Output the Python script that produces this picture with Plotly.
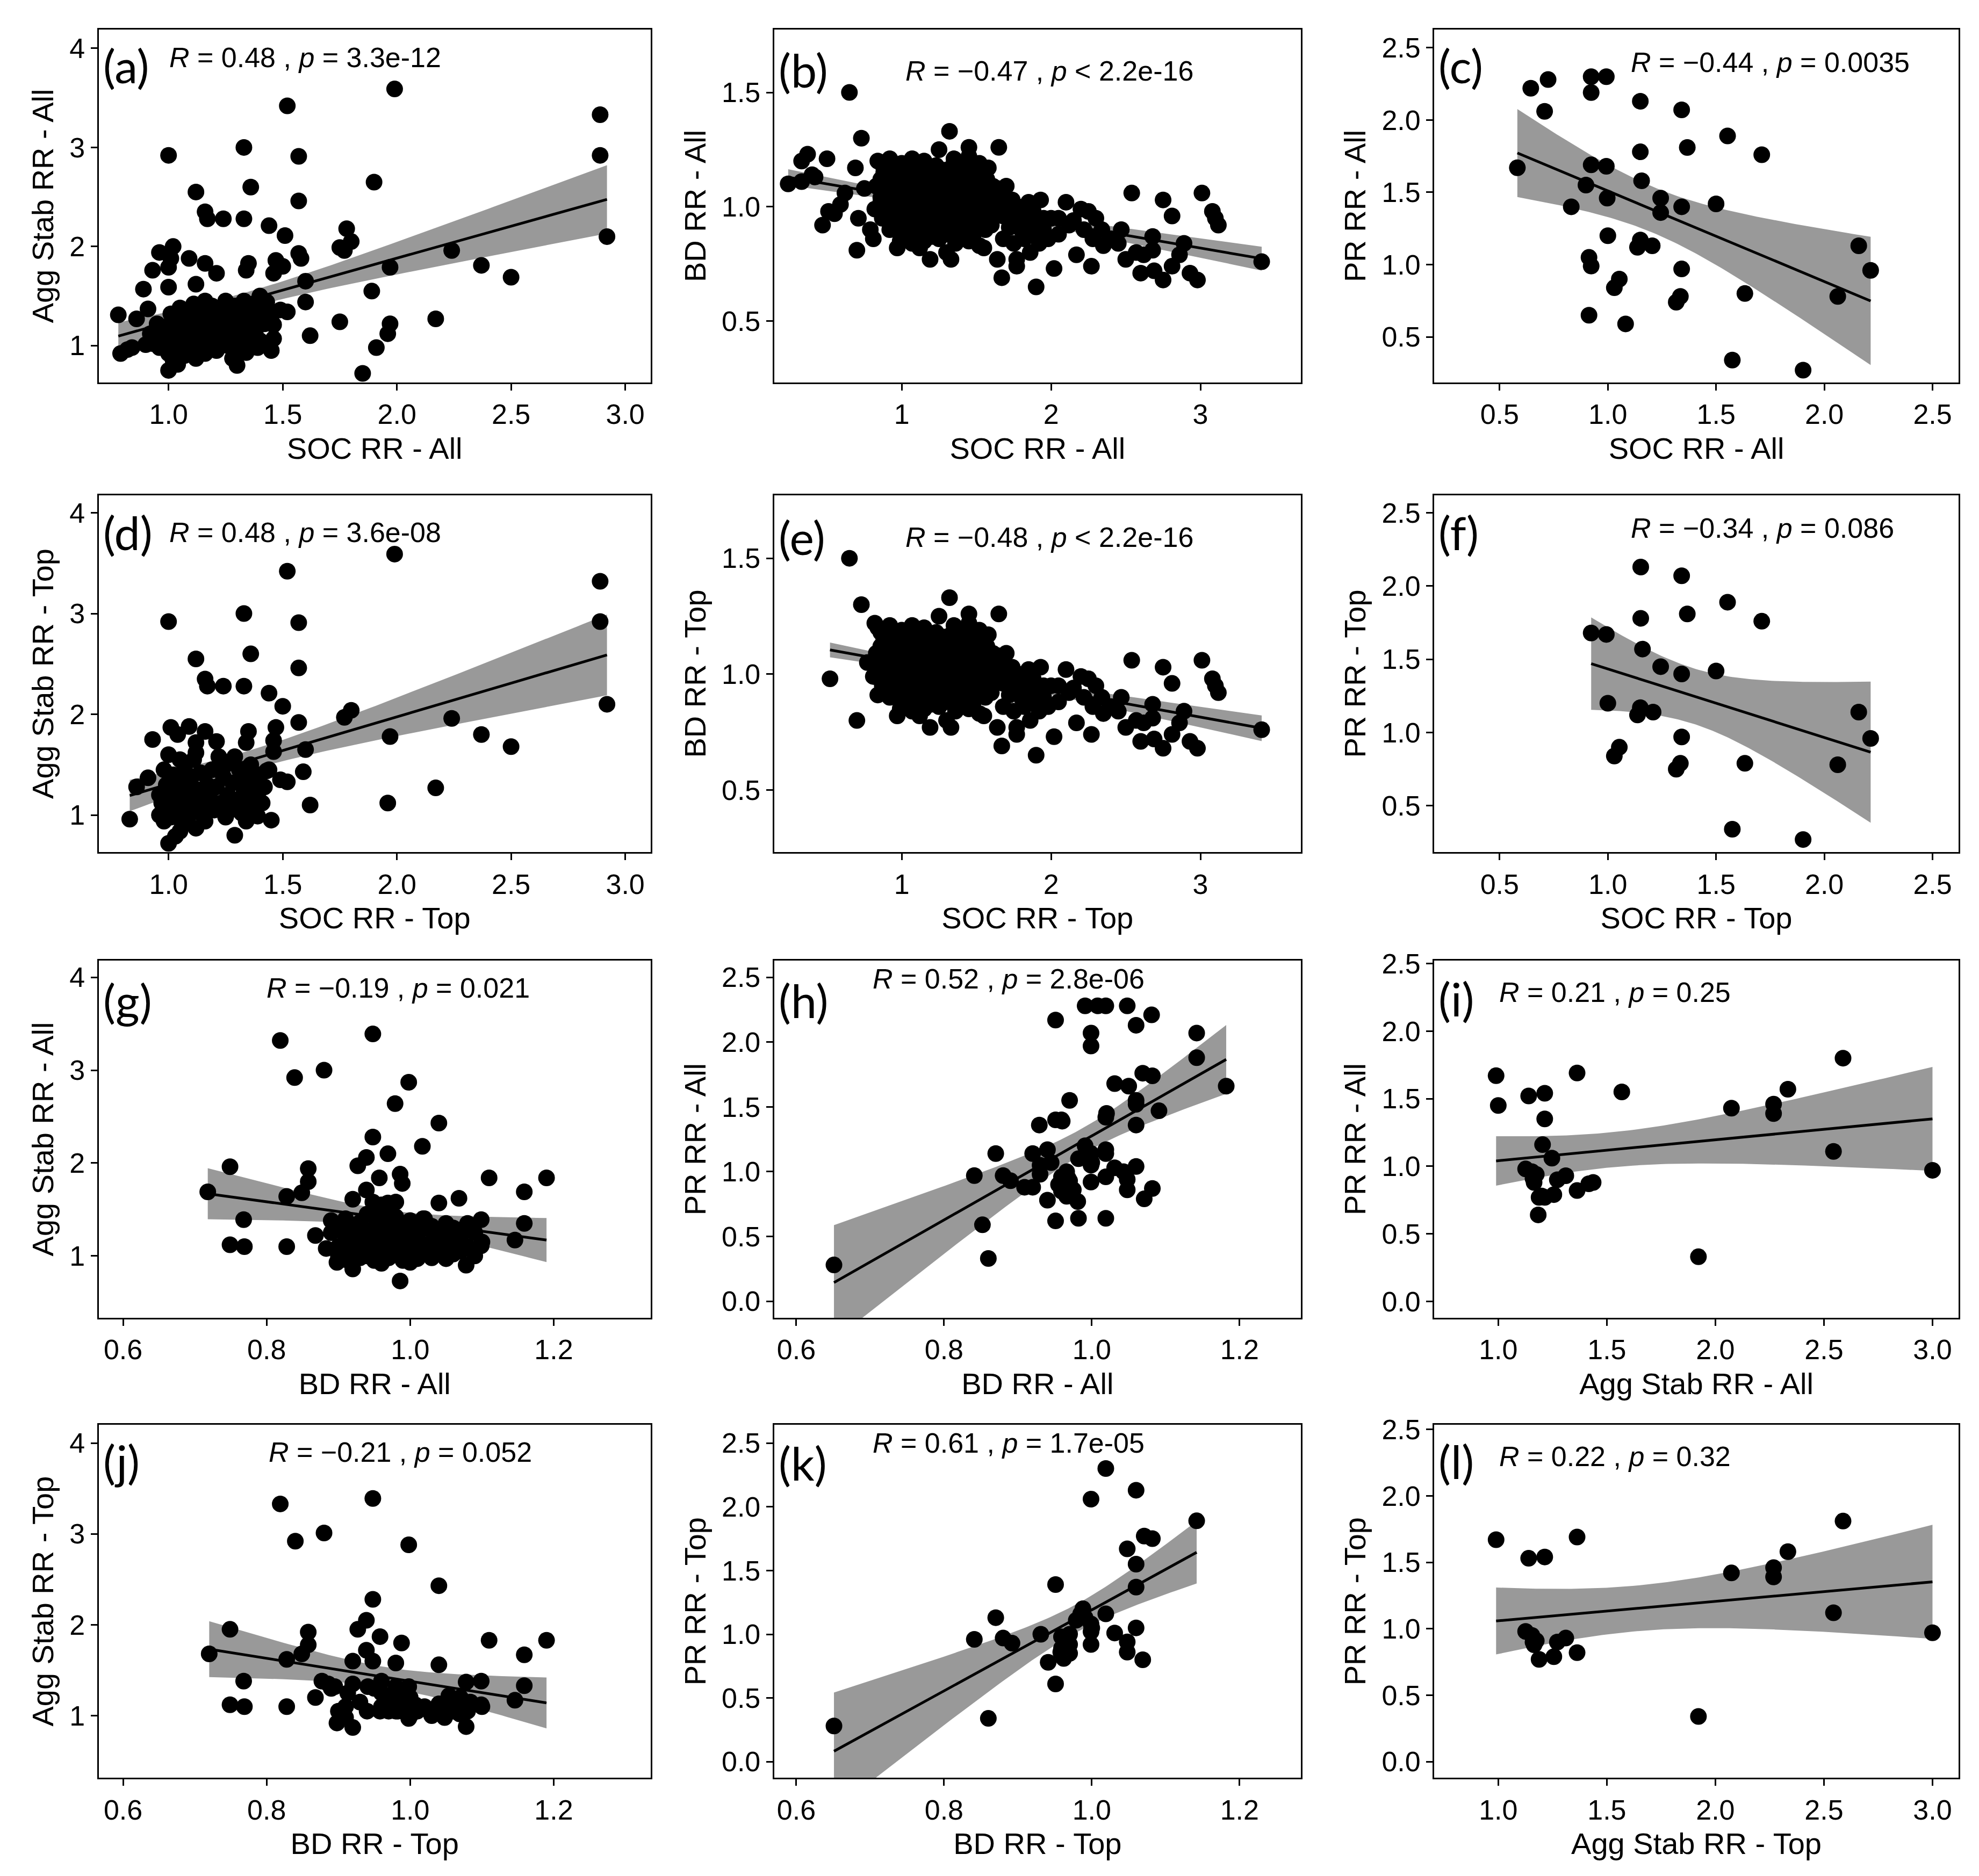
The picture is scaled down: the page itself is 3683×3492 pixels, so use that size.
import numpy as np
import plotly.graph_objects as go

# ---------------- data ----------------
# (a) SOC RR - All  vs  Agg Stab RR - All
a_x = [0.78, 0.79, 0.82, 0.84, 0.86, 0.90, 0.91, 0.89, 0.93, 0.96,
       1.00, 1.02, 1.01, 1.00, 1.00, 1.09, 1.12, 1.16, 1.17, 1.24,
       1.33, 1.33, 1.36, 1.16, 1.21, 1.12, 1.35, 1.34, 1.44, 1.51,
       1.52, 1.57, 1.57, 1.57, 1.58, 1.47, 1.50, 1.46, 1.60, 1.60,
       1.49, 1.52, 1.43, 1.46, 1.46, 1.45, 1.39, 1.34, 1.28, 1.30,
       1.12, 1.00, 1.04, 1.62, 1.75, 1.75, 1.77, 1.78, 1.80, 1.89,
       1.90, 1.91, 1.85, 1.96, 1.97, 1.97, 1.99, 2.17, 2.24, 2.37,
       2.50, 2.89, 2.89, 2.92,
       0.95, 0.95, 0.96, 0.97, 0.97, 0.99, 0.99, 1.00, 1.00, 1.01,
       1.01, 1.02, 1.02, 1.03, 1.03, 1.04, 1.04, 1.05, 1.05, 1.06,
       1.06, 1.07, 1.07, 1.08, 1.08, 1.09, 1.09, 1.10, 1.10, 1.11,
       1.11, 1.12, 1.13, 1.13, 1.14, 1.14, 1.15, 1.16, 1.16, 1.17,
       1.18, 1.18, 1.19, 1.20, 1.20, 1.21, 1.22, 1.22, 1.23, 1.24,
       1.24, 1.25, 1.26, 1.26, 1.27, 1.28, 1.28, 1.29, 1.30, 1.30,
       1.31, 1.32, 1.33, 1.33, 1.34, 1.35, 1.35, 1.36, 1.37, 1.38,
       1.38, 1.40, 1.40, 1.41, 1.42, 1.44, 1.45, 0.93, 0.92, 1.02]
a_y = [1.31, 0.92, 0.96, 0.98, 1.27, 1.01, 1.37, 1.57, 1.76, 1.94,
       2.92, 2.00, 1.88, 1.79, 1.59, 1.88, 2.55, 2.35, 2.28, 2.28,
       2.28, 3.00, 2.60, 1.83, 1.73, 1.62, 1.83, 1.76, 2.21, 2.11,
       3.42, 2.91, 2.46, 1.93, 1.88, 1.86, 1.80, 1.73, 1.65, 1.44,
       1.36, 1.34, 1.44, 1.21, 1.07, 0.95, 0.98, 0.93, 0.87, 0.80,
       0.87, 0.75, 0.81, 1.10, 1.24, 1.99, 1.96, 2.18, 2.05, 1.55,
       2.65, 0.98, 0.72, 1.12, 1.22, 1.79, 3.59, 1.27, 1.96, 1.81,
       1.69, 3.33, 2.92, 2.10,
       1.10, 1.22, 0.98, 1.05, 1.15, 1.05, 1.12, 0.92, 1.20, 1.10,
       1.32, 0.85, 1.00, 1.25, 1.15, 1.12, 0.95, 1.38, 1.08, 1.05,
       1.22, 0.90, 1.30, 1.15, 1.18, 1.00, 1.35, 1.20, 1.08, 1.42,
       0.96, 1.28, 1.12, 1.06, 1.02, 1.36, 1.20, 1.45, 0.92, 1.10,
       1.30, 1.00, 1.40, 1.18, 1.12, 0.95, 1.25, 1.05, 1.02, 1.35,
       1.12, 1.45, 1.00, 1.22, 1.15, 1.30, 1.08, 1.40, 1.18, 0.98,
       1.02, 1.28, 1.45, 1.10, 1.08, 1.35, 1.20, 1.00, 1.42, 1.28,
       1.12, 1.50, 1.05, 1.35, 1.22, 1.00, 1.30, 1.02, 1.12, 0.98]

# (d) SOC RR - Top  vs  Agg Stab RR - Top
d_x = [0.83, 0.86, 0.91, 0.93, 1.00, 1.01, 1.00, 1.04, 1.09, 1.12,
       1.16, 1.17, 1.24, 1.33, 1.33, 1.36, 1.16, 1.21, 1.12, 1.35,
       1.34, 1.44, 1.50, 1.52, 1.57, 1.57, 1.57, 1.47, 1.46, 1.60,
       1.59, 1.49, 1.52, 1.43, 1.46, 1.41, 1.45, 1.39, 1.34, 1.29,
       1.12, 1.00, 1.03, 1.05, 1.62, 1.77, 1.80, 1.96, 1.97, 1.99,
       2.17, 2.24, 2.37, 2.50, 2.89, 2.89, 2.92,
       0.96, 0.96, 0.97, 0.98, 0.99, 1.00, 1.00, 1.01, 1.02, 1.02,
       1.03, 1.04, 1.05, 1.06, 1.06, 1.07, 1.08, 1.08, 1.09, 1.10,
       1.10, 1.11, 1.12, 1.13, 1.14, 1.15, 1.15, 1.16, 1.17, 1.18,
       1.19, 1.20, 1.21, 1.22, 1.23, 1.24, 1.25, 1.25, 1.26, 1.27,
       1.28, 1.29, 1.30, 1.31, 1.32, 1.33, 1.34, 1.35, 1.36, 1.37,
       1.38, 1.39, 1.40, 1.42, 1.44, 1.12, 1.05, 0.98]
d_y = [0.96, 1.28, 1.37, 1.75, 2.92, 1.87, 1.60, 1.80, 1.88, 2.55,
       2.35, 2.28, 2.28, 2.28, 3.00, 2.60, 1.83, 1.73, 1.62, 1.83,
       1.72, 2.21, 2.08, 3.42, 2.91, 2.46, 1.92, 1.87, 1.74, 1.65,
       1.43, 1.35, 1.33, 1.44, 1.63, 1.12, 0.95, 0.99, 0.94, 0.80,
       0.87, 0.72, 0.79, 0.84, 1.10, 1.97, 2.04, 1.12, 1.78, 3.59,
       1.27, 1.96, 1.80, 1.68, 3.32, 2.92, 2.10,
       1.00, 1.20, 1.12, 0.94, 1.30, 1.05, 1.18, 0.98, 1.25, 1.40,
       1.10, 1.02, 1.32, 1.18, 0.92, 1.45, 1.08, 1.28, 1.00, 1.38,
       1.15, 1.55, 1.05, 1.25, 1.42, 1.00, 1.12, 0.94, 1.30, 1.18,
       1.45, 1.05, 1.28, 1.58, 1.12, 1.38, 0.98, 1.50, 1.20, 1.05,
       1.32, 1.58, 1.15, 1.45, 1.02, 1.25, 1.38, 1.12, 1.50, 1.30,
       1.05, 1.20, 1.40, 1.28, 1.45, 1.72, 1.55, 1.45]

# (b)/(e) SOC RR vs BD RR : points shared by All and Top, plus low-SOC points of each
soc_bd_core_x = [0.84, 0.92, 1.00, 1.07, 1.15, 1.23, 1.35, 1.45, 1.52,
                 0.88, 0.96, 1.04, 1.11, 1.19, 1.27, 1.33, 1.41, 1.48, 1.56,
                 0.83, 0.91, 0.99, 1.07, 1.15, 1.22, 1.30, 1.38, 1.46, 1.53, 1.61,
                 0.86, 0.94, 1.02, 1.10, 1.18, 1.26, 1.34, 1.42, 1.50, 1.58, 1.66,
                 0.82, 0.90, 0.98, 1.06, 1.14, 1.22, 1.30, 1.38, 1.46, 1.54, 1.63, 1.70,
                 0.87, 0.95, 1.03, 1.11, 1.19, 1.27, 1.35, 1.43, 1.51, 1.59, 1.68,
                 0.92, 1.00, 1.08, 1.16, 1.24, 1.32, 1.40, 1.48, 1.56,
                 0.99, 1.07, 1.15, 1.25, 1.36, 1.45, 1.52,
                 0.88, 0.96, 1.04, 1.12, 1.20, 1.28, 1.37, 1.44, 1.52,
                 0.86, 0.95, 1.03, 1.11, 1.19, 1.26, 1.34, 1.42, 1.50, 1.57,
                 0.87, 0.95, 1.03, 1.11, 1.19, 1.27, 1.34, 1.42, 1.50, 1.57, 1.64,
                 0.86, 0.94, 1.02, 1.10, 1.18, 1.26, 1.34, 1.42, 1.50, 1.58, 1.66,
                 0.91, 0.99, 1.07, 1.15, 1.23, 1.31, 1.39, 1.47, 1.55, 1.63,
                 0.96, 1.04, 1.12, 1.20, 1.28, 1.36, 1.44, 1.52, 1.60,
                 1.03, 1.11, 1.20, 1.29, 1.38, 1.47,
                 1.32, 1.25, 1.45, 1.65, 1.19, 1.33, 1.30, 1.55, 1.58, 1.70, 1.74, 1.12, 0.97,
                 1.64, 1.67, 1.77, 1.77, 1.86, 1.90, 1.93, 1.88, 1.95, 2.02,
                 2.05, 2.10, 2.17, 2.20, 2.25, 2.27, 2.30, 2.28, 2.35, 2.34,
                 2.22, 2.15, 2.47, 2.50, 2.54, 2.60, 2.62, 2.68, 2.69, 2.75,
                 2.75, 2.81, 2.81, 2.86, 2.89, 2.93, 2.98, 3.01, 3.08, 3.10,
                 3.12, 3.41, 2.68, 2.57,
                 1.72, 1.76, 1.80, 1.78, 1.84, 1.88, 1.90, 1.82, 1.75, 1.68,
                 1.95, 1.98, 1.85, 1.92, 1.72, 2.05, 2.12, 2.40, 2.45, 2.00]
soc_bd_core_y = [1.20, 1.21, 1.19, 1.21, 1.20, 1.18, 1.21, 1.22, 1.19,
                 1.15, 1.16, 1.14, 1.16, 1.15, 1.14, 1.17, 1.15, 1.16, 1.13,
                 1.09, 1.10, 1.11, 1.09, 1.10, 1.11, 1.09, 1.10, 1.08, 1.10, 1.09,
                 1.04, 1.05, 1.06, 1.04, 1.05, 1.04, 1.06, 1.03, 1.05, 1.04, 1.06,
                 0.99, 1.00, 0.99, 1.01, 0.99, 1.00, 1.01, 0.98, 1.00, 0.99, 1.01, 0.98,
                 0.95, 0.94, 0.96, 0.95, 0.94, 0.96, 0.95, 0.93, 0.95, 0.94, 0.96,
                 0.90, 0.89, 0.91, 0.90, 0.89, 0.91, 0.90, 0.88, 0.90,
                 0.85, 0.84, 0.85, 0.86, 0.84, 0.85, 0.83,
                 1.17, 1.18, 1.17, 1.18, 1.17, 1.16, 1.18, 1.17, 1.18,
                 1.12, 1.13, 1.12, 1.13, 1.12, 1.13, 1.12, 1.13, 1.12, 1.12,
                 1.07, 1.08, 1.07, 1.08, 1.07, 1.08, 1.07, 1.08, 1.07, 1.07, 1.08,
                 1.02, 1.03, 1.02, 1.03, 1.02, 1.03, 1.02, 1.03, 1.02, 1.03, 1.02,
                 0.97, 0.98, 0.97, 0.98, 0.97, 0.98, 0.97, 0.98, 0.97, 0.98,
                 0.92, 0.93, 0.92, 0.93, 0.92, 0.93, 0.92, 0.93, 0.92,
                 0.87, 0.88, 0.87, 0.88, 0.87, 0.88,
                 1.33, 1.25, 1.26, 1.26, 0.77, 0.77, 0.80, 0.82, 1.17, 1.09, 1.03, 0.82, 0.82,
                 0.77, 0.69, 0.77, 0.74, 0.80, 0.65, 1.03, 0.98, 0.95, 0.73,
                 0.95, 1.02, 0.79, 0.99, 0.98, 0.74, 0.95, 0.86, 0.83, 0.90,
                 0.90, 0.94, 0.90, 0.77, 1.06, 0.71, 0.79, 0.81, 0.72, 0.68,
                 1.03, 0.96, 0.74, 0.79, 0.84, 0.71, 0.68, 1.06, 0.98, 0.95,
                 0.92, 0.76, 0.87, 0.80,
                 0.98, 0.94, 0.90, 1.00, 0.96, 0.92, 0.88, 0.86, 0.84, 0.86,
                 0.90, 0.86, 1.02, 0.84, 0.91, 0.88, 0.92, 0.86, 0.84, 0.95]
b_low_x = [0.24, 0.33, 0.33, 0.37, 0.40, 0.42, 0.50, 0.65, 0.73, 0.47,
           0.51, 0.55, 0.59, 0.62, 0.69, 0.70, 0.71, 0.79, 0.81, 0.75]
b_low_y = [1.10, 1.11, 1.20, 1.23, 1.14, 1.13, 1.21, 1.50, 1.30, 0.92,
           0.98, 0.97, 1.01, 1.06, 1.17, 0.81, 0.95, 0.90, 0.86, 1.08]
e_low_x = [0.52, 0.65, 0.73, 0.70, 0.77, 0.81, 0.84, 0.82, 0.86]
e_low_y = [0.98, 1.50, 1.30, 0.80, 1.05, 0.99, 0.91, 1.22, 1.18]

# (c) SOC RR - All vs PR RR - All
c_x = [0.582, 0.644, 0.708, 0.724, 0.831, 0.899, 0.913, 0.913, 0.923, 0.923,
       0.923, 0.923, 0.993, 0.993, 0.997, 1.000, 1.030, 1.053, 1.082, 1.137,
       1.150, 1.150, 1.150, 1.156, 1.205, 1.244, 1.244, 1.316, 1.335, 1.341,
       1.341, 1.341, 1.367, 1.500, 1.553, 1.575, 1.633, 1.711, 1.902, 2.062,
       2.159, 2.214]
c_y = [1.67, 2.22, 2.06, 2.28, 1.40, 1.55, 0.65, 1.05, 0.99, 2.30,
       2.19, 1.69, 2.30, 1.68, 1.46, 1.20, 0.84, 0.90, 0.59, 1.12,
       1.17, 2.13, 1.78, 1.58, 1.13, 1.46, 1.36, 0.74, 0.78, 0.97,
       1.40, 2.07, 1.81, 1.42, 1.89, 0.34, 0.80, 1.76, 0.27, 0.78,
       1.13, 0.96]

# (f) SOC RR - Top vs PR RR - Top
f_x = [0.923, 0.993, 1.000, 1.030, 1.053, 1.137, 1.150, 1.152, 1.152, 1.160,
       1.209, 1.244, 1.316, 1.335, 1.341, 1.341, 1.341, 1.367, 1.500, 1.553,
       1.575, 1.633, 1.711, 1.902, 2.062, 2.159, 2.214]
f_y = [1.68, 1.67, 1.20, 0.84, 0.90, 1.12, 1.17, 2.13, 1.78, 1.57,
       1.14, 1.45, 0.75, 0.79, 0.97, 1.40, 2.07, 1.81, 1.42, 1.89,
       0.34, 0.79, 1.76, 0.27, 0.78, 1.14, 0.96]

# (g) BD RR - All vs Agg Stab RR - All
g_x = [0.718, 0.749, 0.749, 0.768, 0.769, 0.819, 0.828, 0.828, 0.839, 0.849,
       0.858, 0.858, 0.868, 0.880, 0.883, 0.898, 0.920, 0.920, 0.927, 0.939,
       0.948, 0.948, 0.939, 0.948, 0.957, 0.969, 0.969, 0.979, 0.980, 0.986,
       0.989, 0.986, 0.998, 1.017, 1.018, 1.040, 1.040, 1.068, 1.078, 1.099,
       1.099, 1.110, 1.146, 1.159, 1.159, 1.190,
       0.89, 0.89, 0.90, 0.90, 0.91, 0.91, 0.92, 0.92, 0.93, 0.93,
       0.93, 0.94, 0.94, 0.95, 0.95, 0.95, 0.96, 0.96, 0.96, 0.97,
       0.97, 0.97, 0.98, 0.98, 0.98, 0.99, 0.99, 0.99, 1.00, 1.00,
       1.00, 1.01, 1.01, 1.01, 1.02, 1.02, 1.03, 1.03, 1.04, 1.04,
       1.05, 1.05, 1.05, 1.06, 1.06, 1.07, 1.07, 1.07, 1.08, 1.08,
       1.09, 1.09, 1.10, 0.94, 0.96, 0.98, 1.00, 0.92, 0.90, 0.97,
       0.99, 1.02, 1.04, 1.06, 0.95, 0.93, 0.91, 1.03, 0.98, 1.01,
       0.96, 1.05, 0.94, 1.00, 0.97]
g_y = [1.69, 1.96, 1.12, 1.39, 1.10, 3.32, 1.64, 1.10, 2.92, 1.68,
       1.94, 1.80, 1.22, 3.00, 1.08, 0.93, 0.86, 1.61, 1.97, 2.06,
       3.39, 2.28, 1.71, 1.58, 1.84, 2.10, 1.57, 2.64, 1.58, 1.88,
       1.78, 0.73, 2.87, 2.18, 1.40, 2.43, 1.57, 1.62, 0.90, 1.39,
       1.11, 1.84, 1.17, 1.69, 1.35, 1.84,
       1.38, 1.25, 1.10, 1.32, 1.18, 1.40, 1.05, 1.28, 1.15, 0.98,
       1.36, 1.22, 1.08, 1.30, 0.95, 1.42, 1.15, 1.02, 1.26, 1.35,
       1.10, 0.98, 1.20, 1.42, 1.05, 1.30, 0.95, 1.15, 1.25, 1.02,
       1.38, 1.10, 0.97, 1.20, 1.30, 1.05, 1.15, 0.98, 1.25, 1.08,
       1.20, 0.97, 1.35, 1.12, 1.02, 1.28, 1.18, 1.05, 1.35, 1.10,
       1.25, 1.00, 1.15, 1.45, 1.55, 1.35, 1.12, 1.20, 1.00, 1.25,
       1.08, 1.40, 1.18, 1.30, 1.12, 1.30, 0.96, 1.32, 1.12, 1.28,
       0.92, 1.12, 1.00, 0.93, 1.45]

# (j) BD RR - Top vs Agg Stab RR - Top
j_x = [0.720, 0.749, 0.749, 0.768, 0.769, 0.819, 0.828, 0.828, 0.840, 0.849,
       0.858, 0.858, 0.868, 0.880, 0.877, 0.886, 0.895, 0.898, 0.900, 0.910,
       0.913, 0.920, 0.920, 0.927, 0.939, 0.948, 0.948, 0.939, 0.948, 0.958,
       0.941, 0.960, 0.958, 0.966, 0.975, 0.980, 0.988, 0.980, 0.983, 0.998,
       0.998, 0.998, 1.007, 1.019, 1.040, 1.040, 1.040, 1.048, 1.054, 1.063,
       1.069, 1.078, 1.078, 1.084, 1.099, 1.099, 1.110, 1.146, 1.159, 1.159,
       1.190,
       0.96, 0.97, 0.98, 0.99, 1.00, 1.00, 1.01, 0.96, 0.97, 0.95,
       1.02, 1.05, 1.06, 1.07, 0.93, 0.92, 0.91, 0.89, 0.94, 1.03,
       0.99, 1.08, 1.10, 0.98, 1.04]
j_y = [1.68, 1.95, 1.12, 1.38, 1.10, 3.33, 1.62, 1.10, 2.92, 1.68,
       1.92, 1.78, 1.20, 3.01, 1.38, 1.35, 1.32, 0.92, 1.05, 0.98,
       1.25, 0.87, 1.60, 1.95, 2.05, 3.39, 2.28, 1.72, 1.60, 1.87,
       1.32, 1.38, 1.05, 1.15, 1.12, 1.58, 1.80, 1.32, 1.05, 2.88,
       1.32, 0.97, 1.12, 1.08, 2.43, 1.56, 1.13, 0.98, 1.22, 1.12,
       1.02, 0.88, 1.37, 1.15, 1.38, 1.12, 1.83, 1.17, 1.67, 1.33,
       1.83,
       1.10, 1.20, 1.05, 1.25, 1.00, 1.20, 1.05, 1.25, 1.05, 1.30,
       1.10, 1.15, 1.05, 1.20, 1.15, 1.35, 1.10, 1.30, 1.05, 1.00,
       1.10, 1.05, 1.10, 1.22, 1.08]

# (h) BD RR - All vs PR RR - All
h_x = [0.651, 0.841, 0.852, 0.860, 0.870, 0.880, 0.890, 0.909, 0.920, 0.920,
       0.929, 0.930, 0.940, 0.940, 0.945, 0.951, 0.951, 0.951, 0.959, 0.959,
       0.959, 0.966, 0.966, 0.970, 0.970, 0.981, 0.982, 0.982, 0.991, 0.991,
       0.999, 0.999, 0.999, 0.999, 0.999, 1.008, 1.019, 1.019, 1.019, 1.019,
       1.019, 1.019, 1.031, 1.031, 1.043, 1.048, 1.048, 1.048, 1.050, 1.060,
       1.060, 1.060, 1.060, 1.069, 1.071, 1.081, 1.082, 1.082, 1.091, 1.142,
       1.142, 1.182,
       0.955, 0.962, 0.968, 0.975, 0.960, 0.990, 1.000, 1.020, 1.060, 0.930]
h_y = [0.28, 0.97, 0.59, 0.33, 1.14, 0.97, 0.93, 0.88, 0.88, 1.14,
       1.36, 0.98, 1.17, 0.78, 1.07, 2.17, 0.62, 1.40, 1.40, 0.96,
       0.85, 1.00, 0.81, 1.55, 0.93, 0.77, 0.64, 1.10, 1.20, 2.28,
       1.14, 1.05, 0.92, 2.07, 1.97, 2.28, 2.28, 1.42, 1.17, 1.14,
       0.96, 0.64, 1.68, 1.03, 1.00, 0.94, 0.86, 2.28, 1.66, 2.13,
       1.55, 1.36, 1.04, 1.76, 0.79, 2.21, 0.87, 1.74, 1.47, 2.07,
       1.88, 1.66,
       0.90, 0.88, 0.95, 0.86, 1.39, 1.12, 1.07, 1.45, 1.52, 1.05]

# (k) BD RR - Top vs PR RR - Top
k_x = [0.651, 0.841, 0.860, 0.870, 0.880, 0.892, 0.931, 0.941, 0.951, 0.951,
       0.959, 0.959, 0.962, 0.966, 0.970, 0.970, 0.979, 0.988, 0.991, 0.999,
       0.999, 0.999, 0.999, 1.019, 1.019, 1.031, 1.048, 1.048, 1.048, 1.060,
       1.060, 1.060, 1.060, 1.069, 1.071, 1.082, 1.142,
       1.000, 0.965, 0.970, 0.985, 0.958]
k_y = [0.28, 0.96, 0.34, 1.13, 0.97, 0.93, 1.00, 0.78, 0.61, 1.39,
       0.98, 0.89, 0.81, 0.94, 1.00, 0.85, 1.11, 1.20, 1.13, 1.08,
       1.02, 0.92, 2.06, 2.30, 1.16, 1.01, 0.94, 0.86, 1.67, 1.55,
       1.37, 1.05, 2.13, 0.80, 1.77, 1.75, 1.89,
       1.05, 0.88, 0.92, 1.16, 0.86]

# (i) Agg Stab RR - All vs PR RR - All
i_x = [0.990, 1.000, 1.126, 1.140, 1.155, 1.165, 1.175, 1.184, 1.188, 1.204,
       1.214, 1.214, 1.214, 1.247, 1.256, 1.272, 1.311, 1.363, 1.363, 1.417,
       1.437, 1.569, 1.922, 2.074, 2.268, 2.268, 2.334, 2.544, 2.588, 3.000,
       1.160, 1.200]
i_y = [1.67, 1.45, 0.98, 1.52, 0.96, 0.88, 0.94, 0.64, 0.77, 1.16,
       1.54, 1.35, 0.77, 1.06, 0.79, 0.90, 0.93, 1.69, 0.82, 0.87,
       0.88, 1.55, 0.33, 1.43, 1.46, 1.39, 1.57, 1.11, 1.80, 0.97,
       0.91, 0.78]

# (l) Agg Stab RR - Top vs PR RR - Top
l_x = [0.990, 1.140, 1.214, 1.363, 1.126, 1.155, 1.165, 1.175, 1.188, 1.256,
       1.272, 1.311, 1.363, 1.922, 2.074, 2.268, 2.268, 2.334, 2.544, 2.588,
       3.000, 1.160]
l_y = [1.67, 1.53, 1.54, 1.69, 0.98, 0.95, 0.88, 0.91, 0.77, 0.79,
       0.90, 0.93, 0.82, 0.34, 1.42, 1.46, 1.39, 1.58, 1.12, 1.81,
       0.97, 0.90]

# stat labels
stats = ['<i>R</i> = 0.48 , <i>p</i> = 3.3e-12', '<i>R</i> = \u22120.47 , <i>p</i> < 2.2e-16',
         '<i>R</i> = \u22120.44 , <i>p</i> = 0.0035', '<i>R</i> = 0.48 , <i>p</i> = 3.6e-08',
         '<i>R</i> = \u22120.48 , <i>p</i> < 2.2e-16', '<i>R</i> = \u22120.34 , <i>p</i> = 0.086',
         '<i>R</i> = \u22120.19 , <i>p</i> = 0.021', '<i>R</i> = 0.52 , <i>p</i> = 2.8e-06',
         '<i>R</i> = 0.21 , <i>p</i> = 0.25', '<i>R</i> = \u22120.21 , <i>p</i> = 0.052',
         '<i>R</i> = 0.61 , <i>p</i> = 1.7e-05', '<i>R</i> = 0.22 , <i>p</i> = 0.32']
tags = ['(a)', '(b)', '(c)', '(d)', '(e)', '(f)', '(g)', '(h)', '(i)', '(j)', '(k)', '(l)']

# tick values / labels
ticks_half = [1.0, 1.5, 2.0, 2.5, 3.0]
ticks_half_lab = ['1.0', '1.5', '2.0', '2.5', '3.0']
ticks_int = [1, 2, 3]
ticks_int_lab = ['1', '2', '3']
ticks_agg = [1, 2, 3, 4]
ticks_agg_lab = ['1', '2', '3', '4']
ticks_bd_y = [0.5, 1.0, 1.5]
ticks_bd_y_lab = ['0.5', '1.0', '1.5']
ticks_pr5 = [0.5, 1.0, 1.5, 2.0, 2.5]
ticks_pr5_lab = ['0.5', '1.0', '1.5', '2.0', '2.5']
ticks_pr6 = [0.0, 0.5, 1.0, 1.5, 2.0, 2.5]
ticks_pr6_lab = ['0.0', '0.5', '1.0', '1.5', '2.0', '2.5']
ticks_bd_x = [0.6, 0.8, 1.0, 1.2]
ticks_bd_x_lab = ['0.6', '0.8', '1.0', '1.2']


def t975(df):
    z = 1.959964
    g1 = (z**3 + z) / 4
    g2 = (5 * z**5 + 16 * z**3 + 3 * z) / 96
    g3 = (3 * z**7 + 19 * z**5 + 17 * z**3 - 15 * z) / 384
    return z + g1 / df + g2 / df**2 + g3 / df**3


def lm_band(x, y):
    # linear fit with 95% confidence band, as geom_smooth(method = "lm")
    x = np.asarray(x, float)
    y = np.asarray(y, float)
    n = len(x)
    xm = x.mean()
    sxx = ((x - xm)**2).sum()
    b = ((x - xm) * (y - y.mean())).sum() / sxx
    a = y.mean() - b * xm
    s = np.sqrt(((y - a - b * x)**2).sum() / (n - 2))
    xs = np.linspace(x.min(), x.max(), 100)
    fit = a + b * xs
    se = s * np.sqrt(1 / n + (xs - xm)**2 / sxx)
    t = t975(n - 2)
    return xs, fit, fit - t * se, fit + t * se


W, H = 3667, 3476
col_dom = [[0.0479, 0.3280], [0.3907, 0.6580], [0.7257, 0.9918]]
row_dom = [[0.7975, 0.9865], [0.5460, 0.7371], [0.2966, 0.4879], [0.0503, 0.2393]]

panels = [
    dict(x=a_x, y=a_y, xt='SOC RR - All', yt='Agg Stab RR - All', xr=[0.694, 3.111], yr=[0.628, 4.19],
         xtv=ticks_half, xtl=ticks_half_lab, ytv=ticks_agg, ytl=ticks_agg_lab, rx=0.374, ry=0.92, ty=0.899),
    dict(x=b_low_x + soc_bd_core_x, y=b_low_y + soc_bd_core_y, xt='SOC RR - All', yt='BD RR - All',
         xr=[0.146, 3.672], yr=[0.232, 1.775], xtv=ticks_int, xtl=ticks_int_lab, ytv=ticks_bd_y,
         ytl=ticks_bd_y_lab, rx=0.523, ry=0.882, ty=0.886),
    dict(x=c_x, y=c_y, xt='SOC RR - All', yt='PR RR - All', xr=[0.198, 2.62], yr=[0.185, 2.626],
         xtv=ticks_pr5, xtl=ticks_pr5_lab, ytv=ticks_pr5, ytl=ticks_pr5_lab, rx=0.641, ry=0.907, ty=0.899),
    dict(x=d_x, y=d_y, xt='SOC RR - Top', yt='Agg Stab RR - Top', xr=[0.694, 3.111], yr=[0.633, 4.174],
         xtv=ticks_half, xtl=ticks_half_lab, ytv=ticks_agg, ytl=ticks_agg_lab, rx=0.374, ry=0.896, ty=0.896),
    dict(x=e_low_x + soc_bd_core_x, y=e_low_y + soc_bd_core_y, xt='SOC RR - Top', yt='BD RR - Top',
         xr=[0.146, 3.672], yr=[0.232, 1.772], xtv=ticks_int, xtl=ticks_int_lab, ytv=ticks_bd_y,
         ytl=ticks_bd_y_lab, rx=0.523, ry=0.883, ty=0.883),
    dict(x=f_x, y=f_y, xt='SOC RR - Top', yt='PR RR - Top', xr=[0.198, 2.62], yr=[0.184, 2.62],
         xtv=ticks_pr5, xtl=ticks_pr5_lab, ytv=ticks_pr5, ytl=ticks_pr5_lab, rx=0.626, ry=0.908, ty=0.896),
    dict(x=g_x, y=g_y, xt='BD RR - All', yt='Agg Stab RR - All', xr=[0.566, 1.335], yr=[0.333, 4.18],
         xtv=ticks_bd_x, xtl=ticks_bd_x_lab, ytv=ticks_agg, ytl=ticks_agg_lab, rx=0.543, ry=0.924, ty=0.89),
    dict(x=h_x, y=h_y, xt='BD RR - All', yt='PR RR - All', xr=[0.57, 1.283], yr=[-0.128, 2.629],
         xtv=ticks_bd_x, xtl=ticks_bd_x_lab, ytv=ticks_pr6, ytl=ticks_pr6_lab, rx=0.445, ry=0.949, ty=0.89),
    dict(x=i_x, y=i_y, xt='Agg Stab RR - All', yt='PR RR - All', xr=[0.705, 3.12], yr=[-0.122, 2.522],
         xtv=ticks_half, xtl=ticks_half_lab, ytv=ticks_pr6, ytl=ticks_pr6_lab, rx=0.345, ry=0.911, ty=0.894),
    dict(x=j_x, y=j_y, xt='BD RR - Top', yt='Agg Stab RR - Top', xr=[0.566, 1.335], yr=[0.317, 4.2],
         xtv=ticks_bd_x, xtl=ticks_bd_x_lab, ytv=ticks_agg, ytl=ticks_agg_lab, rx=0.547, ry=0.923, ty=0.897),
    dict(x=k_x, y=k_y, xt='BD RR - Top', yt='PR RR - Top', xr=[0.57, 1.283], yr=[-0.126, 2.643],
         xtv=ticks_bd_x, xtl=ticks_bd_x_lab, ytv=ticks_pr6, ytl=ticks_pr6_lab, rx=0.445, ry=0.948, ty=0.893),
    dict(x=l_x, y=l_y, xt='Agg Stab RR - Top', yt='PR RR - Top', xr=[0.705, 3.12], yr=[-0.121, 2.534],
         xtv=ticks_half, xtl=ticks_half_lab, ytv=ticks_pr6, ytl=ticks_pr6_lab, rx=0.345, ry=0.91, ty=0.897),
]

AX_FONT = 'Liberation Sans, Arial, sans-serif'
TAG_FONT = 'Lato, Open Sans, sans-serif'

fig = go.Figure()
layout = dict(width=W, height=H, autosize=False, paper_bgcolor='white', plot_bgcolor='white',
              margin=dict(l=0, r=0, t=0, b=0), showlegend=False,
              font=dict(family=AX_FONT, color='black'))
annotations = []

for k, p in enumerate(panels):
    n = k + 1
    xid = 'x' if n == 1 else f'x{n}'
    yid = 'y' if n == 1 else f'y{n}'
    xs, fit, lo, hi = lm_band(p['x'], p['y'])

    fig.add_trace(go.Scatter(x=xs, y=lo, mode='lines', line=dict(width=0), xaxis=xid, yaxis=yid,
                             hoverinfo='skip'))
    fig.add_trace(go.Scatter(x=xs, y=hi, mode='lines', line=dict(width=0), fill='tonexty',
                             fillcolor='#999999', xaxis=xid, yaxis=yid, hoverinfo='skip'))
    fig.add_trace(go.Scatter(x=p['x'], y=p['y'], mode='markers', xaxis=xid, yaxis=yid,
                             marker=dict(color='black', size=31, line=dict(width=0))))
    fig.add_trace(go.Scatter(x=xs, y=fit, mode='lines', line=dict(color='black', width=5),
                             xaxis=xid, yaxis=yid, hoverinfo='skip'))

    r, c = divmod(k, 3)
    common = dict(showline=True, linecolor='black', linewidth=3, mirror=True, showgrid=False,
                  zeroline=False, ticks='outside', ticklen=12, tickwidth=3, tickcolor='black',
                  tickfont=dict(size=52, color='black', family=AX_FONT), automargin=False)
    layout['xaxis' if n == 1 else f'xaxis{n}'] = dict(
        common, domain=col_dom[c], range=p['xr'], anchor=yid, tickvals=p['xtv'], ticktext=p['xtl'],
        title=dict(text=p['xt'], font=dict(size=56, color='black', family=AX_FONT), standoff=16))
    layout['yaxis' if n == 1 else f'yaxis{n}'] = dict(
        common, domain=row_dom[r], range=p['yr'], anchor=xid, tickvals=p['ytv'], ticktext=p['ytl'],
        title=dict(text=p['yt'], font=dict(size=56, color='black', family=AX_FONT), standoff=12))

    annotations.append(dict(text=tags[k], xref=f'{xid} domain', yref=f'{yid} domain', x=0.006, y=p['ty'],
                            xanchor='left', yanchor='middle', showarrow=False,
                            font=dict(size=86, color='black', family=TAG_FONT)))
    annotations.append(dict(text=stats[k], xref=f'{xid} domain', yref=f'{yid} domain', x=p['rx'], y=p['ry'],
                            xanchor='center', yanchor='middle', showarrow=False,
                            font=dict(size=52, color='black', family=AX_FONT)))

layout['annotations'] = annotations
fig.update_layout(**layout)
fig.write_html('out.html')
